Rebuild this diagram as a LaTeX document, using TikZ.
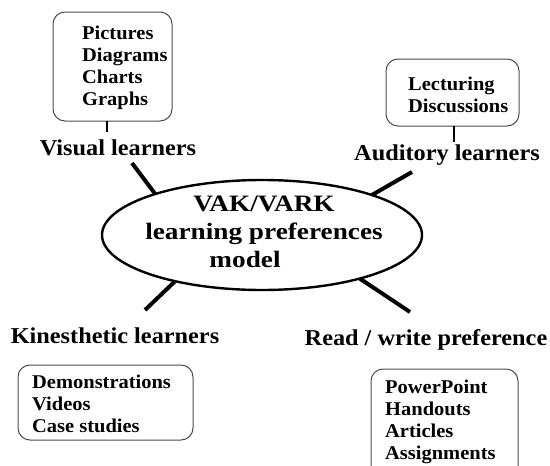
\documentclass[tikz,border=0pt]{standalone}
\usepackage{fontspec}
\newfontfamily\labfont[FakeStretch=1.07]{Liberation Serif}
\newfontfamily\ellfont[FakeStretch=1.16]{Liberation Serif}
\newfontfamily\lstfont[FakeStretch=1.05]{Liberation Serif}
\usetikzlibrary{positioning,shapes}

\begin{document}
\begin{tikzpicture}[x=1pt,y=-1pt,
                    item box/.style={draw=black!70,line width=1pt,rounded corners=12pt,inner sep=0pt,outer sep=0pt},
                    item text/.style={anchor=north west,inner sep=0pt,align=left,font=\lstfont\bfseries\fontsize{19.5}{22}\selectfont},
                    learner/.style={anchor=base,inner sep=0pt,font=\labfont\bfseries\fontsize{22.7}{26}\selectfont},
                    main node/.style={ellipse,draw,line width=2.4pt,minimum width=320pt,minimum height=110pt,inner sep=0pt,outer sep=0pt},
                    stub/.style={line width=4pt},
                    link/.style={line width=2.5pt}
                   ]

  \useasboundingbox (0,0) rectangle (550,466);
  \clip (0,0) rectangle (550,466);

  % centre
  \node[main node] (model) at (262,235) {};
  \node[align=center,inner sep=0pt,font=\ellfont\bfseries\fontsize{23.5}{28}\selectfont] (modeltext) at (264,232)
       {VAK/VARK\\learning preferences\\model\rule{38pt}{0pt}};

  % learner types
  \node[learner] (visual) at (118,155) {Visual learners};
  \node[learner] (auditory) at (447,160) {Auditory learners};
  \node[learner] (kinesthetic) at (115,343) {Kinesthetic learners};
  \node[learner] (readwrite) at (426,345) {Read / write preference};

  % boxes
  \node[item box,minimum width=119pt,minimum height=109pt] (visbox) at (112.5,66.5) {};
  \node[item box,minimum width=133pt,minimum height=67pt] (audbox) at (452.5,92.5) {};
  \node[item box,minimum width=175pt,minimum height=75pt] (kinbox) at (105.5,402.5) {};
  \node[item box,minimum width=147pt,minimum height=116pt] (readbox) at (444.5,427) {};

  \node[item text] (vistext) at (82,25.5) {Pictures\\Diagrams\\Charts\\Graphs};
  \node[item text] (audtext) at (408,76.5) {Lecturing\\Discussions};
  \node[item text] (kintext) at (32,374.5) {Demonstrations\\Videos\\Case studies};
  \node[item text] (readtext) at (385,379.5) {PowerPoint\\Handouts\\Articles\\Assignments};

  % links and stubs
  \coordinate (vislink) at (107,132);
  \coordinate (audlink) at (454,142);
  \draw[link] (vislink |- visbox.south) -- (vislink);
  \draw[link] (audlink |- audbox.south) -- (audlink);

  \coordinate (visstub) at (132,163);
  \coordinate (audstub) at (412,172);
  \coordinate (kinstub) at (145,310);
  \coordinate (readstub) at (410,312);

  \path%
   (model.159) edge [stub] (visstub)
   (model.20)  edge [stub] (audstub)
   (model.208) edge [stub] (kinstub)
   (model.336) edge [stub] (readstub);
\end{tikzpicture}
\end{document}
